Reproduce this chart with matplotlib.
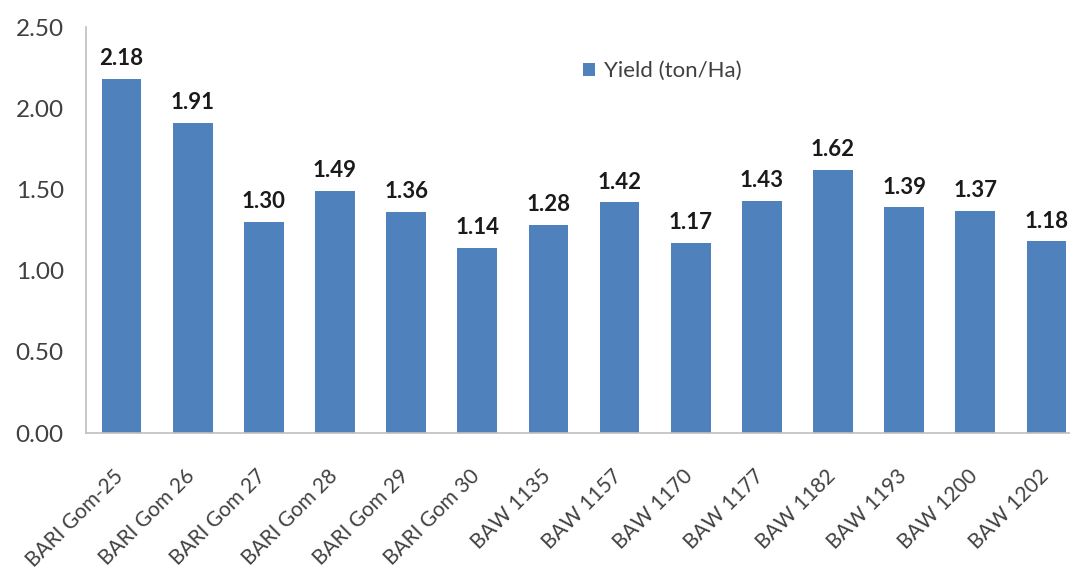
import matplotlib
matplotlib.use('Agg')
import matplotlib.pyplot as plt
import matplotlib.transforms as mtransforms
import numpy as np

varieties = ['BARI Gom-25', 'BARI Gom 26', 'BARI Gom 27', 'BARI Gom 28', 'BARI Gom 29',
             'BARI Gom 30', 'BAW 1135', 'BAW 1157', 'BAW 1170', 'BAW 1177',
             'BAW 1182', 'BAW 1193', 'BAW 1200', 'BAW 1202']
yield_t_ha = [2.18, 1.91, 1.30, 1.49, 1.36, 1.14, 1.28, 1.42, 1.17, 1.43,
              1.62, 1.39, 1.37, 1.18]
y_ticks = [0.0, 0.5, 1.0, 1.5, 2.0, 2.5]

plt.rcParams['font.family'] = ['Lato', 'DejaVu Sans']
bar_color = '#4f81bd'
text_color = '#404040'

fig = plt.figure(figsize=(10.70, 5.77), dpi=100)
ax = fig.add_axes([86 / 1070, 144 / 577, 996 / 1070, 406 / 577])

x = np.arange(len(varieties))
bars = ax.bar(x, yield_t_ha, width=0.56, color=bar_color, label='Yield (ton/Ha)')

for rect, v in zip(bars, yield_t_ha):
    ax.annotate(f'{v:.2f}', (rect.get_x() + rect.get_width() / 2, v),
                xytext=(0, 7), textcoords='offset points',
                ha='center', va='bottom', fontsize=16, fontweight='bold',
                color='#1a1a1a')

ax.set_xlim(-0.5, len(varieties) - 0.5)
ax.set_ylim(0, 2.5)
ax.set_yticks(y_ticks)
ax.set_yticklabels([f'{t:.2f}' for t in y_ticks])
ax.set_xticks(x)
ax.set_xticklabels(varieties, rotation=45, ha='right', rotation_mode='anchor')

ax.tick_params(axis='y', length=0, pad=16, labelsize=17.5, labelcolor=text_color)
ax.tick_params(axis='x', length=0, pad=24, labelsize=15, labelcolor=text_color)

# nudge the slanted labels a bit left so they end under the bar centres
shift = mtransforms.ScaledTranslation(-8 / 100, 0, fig.dpi_scale_trans)
for lbl in ax.get_xticklabels():
    lbl.set_transform(lbl.get_transform() + shift)

for side in ['top', 'right']:
    ax.spines[side].set_visible(False)
ax.spines['left'].set_color('#bfbfbf')
ax.spines['bottom'].set_color('#bfbfbf')
ax.spines['left'].set_linewidth(1.2)
ax.spines['bottom'].set_linewidth(1.2)

leg = ax.legend(loc='upper left', bbox_to_anchor=(0.479, 0.965), frameon=False,
                fontsize=16, handlelength=0.55, handleheight=0.55, handletextpad=0.4)
for t in leg.get_texts():
    t.set_color(text_color)

fig.savefig('out.png', dpi=100)
